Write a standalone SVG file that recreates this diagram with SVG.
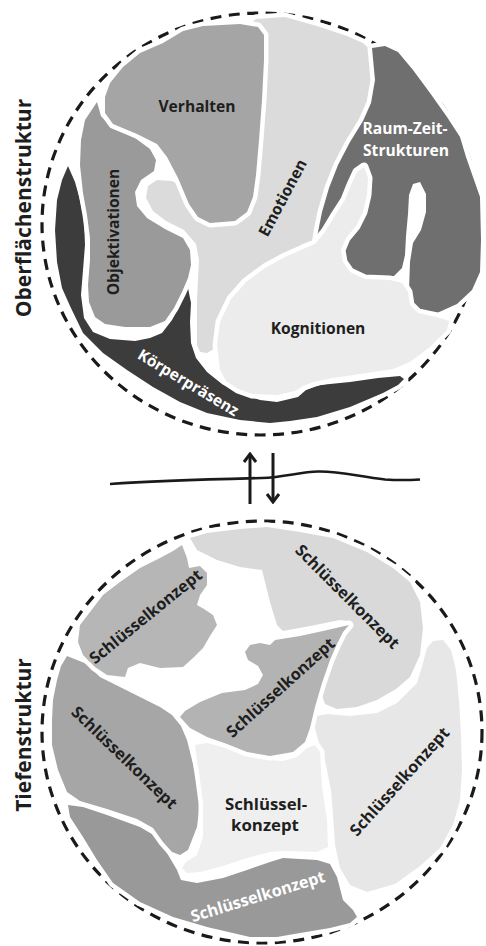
<svg xmlns="http://www.w3.org/2000/svg" width="486" height="946" viewBox="0 0 486 946">
<style>
.bg{fill:#ffffff}
.reg{stroke:#ffffff;stroke-width:9;stroke-linejoin:round;paint-order:stroke}
.ring{fill:none;stroke:#1a1a1a;stroke-width:3.2;stroke-dasharray:11 7.5}
.t{font-family:"Open Sans","Liberation Sans",Arial,sans-serif;font-weight:700;font-size:15.6px;fill:#1e1e1e;text-anchor:middle}
.b{font-size:16.2px}
.e{font-size:16.8px}
.w{fill:#ffffff}
.side{font-family:"Open Sans","Liberation Sans",Arial,sans-serif;font-weight:700;font-size:21px;fill:#1e1e1e;text-anchor:middle}
.arr{fill:none;stroke:#1a1a1a;stroke-width:3}
</style>
<defs>
<marker id="chev" viewBox="-2 -2 12 16" refX="8" refY="6" markerWidth="12" markerHeight="16" markerUnits="userSpaceOnUse" orient="auto">
<path d="M0,0 L8,6 L0,12" fill="none" stroke="#1a1a1a" stroke-width="3"/>
</marker>
</defs>
<rect class="bg" x="0" y="0" width="486" height="946"/>

<!-- side labels -->
<text class="side" transform="translate(23,208) rotate(-90)" y="7.5">Oberflächenstruktur</text>
<text class="side" transform="translate(23,735) rotate(-90)" y="7.5">Tiefenstruktur</text>

<!-- Top circle: Oberflächenstruktur -->
<g id="oberflaeche">
<ellipse class="ring" cx="261" cy="224" rx="219" ry="211"/>
<g id="koerperpraesenz">
<path class="reg" fill="#3c3c3c" d="M68,166 L62,180 L57,200 L55,230 L57,262 L62,288 L70,306 L83,333 L103,353 L127,370 L153,387 L180,402 L207,413 L240,420 L270,423 L290,421 L317,417 L350,407 L383,393 L398,385 L404,379 L400,376 L378,378 L350,382 L320,385 L306,390 L298,397 L277,402 L260,400 L240,393 L222,384 L207,372 L196,358 L191,343 L190,322 L191,303 L188,288 L184,296 L179,307 L172,320 L162,333 L150,338 L135,341 L110,339 L93,332 L84,318 L81,295 L83,270 L85,245 L84,220 L80,200 L75,182 Z"/>
<text class="t w" transform="translate(188,383) rotate(31)" y="5">Körperpräsenz</text>
</g>
<g id="emotionen">
<path class="reg" fill="#dadbda" d="M256,19 L285,17 L317,26 L347,36 L363,43 L376,55 L379,80 L373,105 L360,128 L346,150 L335,178 L327,205 L322,230 L318,246 L300,262 L262,292 L240,322 L228,345 L214,349 L207,353 L200,352 L197,345 L197,325 L197,300 L198,280 L199,260 L196,244 L184,230 L166,221 L153,211 L146,198 L148,186 L157,180 L172,181 L186,188 L200,205 L225,200 L240,120 L243,40 L250,24 Z"/>
<text class="t" transform="translate(283,198) rotate(-62)" y="5">Emotionen</text>
</g>
<g id="raum-zeit">
<path class="reg" fill="#6f6f6f" d="M372,48 L385,46 L398,52 L413,70 L430,93 L447,117 L460,137 L466,157 L473,177 L480,197 L481,240 L480,272 L472,290 L457,304 L437,313 L420,315 L412,308 L409,290 L410,262 L413,243 L421,230 L426,212 L426,194 L420,182 L413,184 L409,195 L408,214 L406,236 L405,255 L402,268 L394,276 L380,278 L340,275 L320,255 L316,244 L318,232 L322,212 L329,188 L338,165 L350,142 L363,121 L371,103 L375,80 Z"/>
<text class="t w" x="405" y="134">Raum-Zeit-</text>
<text class="t w" x="406" y="156">Strukturen</text>
</g>
<g id="objektivationen">
<path class="reg" fill="#9a9a9a" d="M97,102 L101,116 L112,127 L135,138 L150,149 L156,160 L154,171 L141,180 L135,192 L137,206 L147,218 L165,229 L183,238 L190,250 L191,265 L188,278 L182,292 L174,308 L165,321 L150,327 L125,327 L105,324 L95,317 L89,302 L88,285 L90,260 L90,238 L87,215 L83,193 L80,165 L81,140 L85,120 Z"/>
<text class="t" transform="translate(114,232) rotate(-90)" y="5">Objektivationen</text>
</g>
<g id="verhalten">
<path class="reg" fill="#a5a5a5" d="M105,113 L105,97 L110,83 L123,67 L140,53 L163,43 L183,31 L203,26 L240,24 L258,27 L264,35 L264,60 L262,100 L259,140 L256,175 L253,197 L247,212 L235,221 L210,223 L198,217 L189,204 L178,178 L167,157 L157,144 L137,134 L113,124 Z"/>
<text class="t" x="197" y="112">Verhalten</text>
</g>
<g id="kognitionen">
<path class="reg" fill="#ececec" d="M364,167 L368,178 L367,195 L363,212 L356,226 L346,238 L341,250 L343,262 L350,272 L365,279 L390,280 L402,283 L408,292 L410,305 L418,313 L437,317 L449,321 L447,330 L430,347 L410,362 L393,369 L367,373 L333,378 L313,382 L303,386 L295,391 L277,395 L252,394 L238,389 L226,381 L220,370 L217,345 L220,322 L231,299 L246,282 L265,268 L285,257 L303,249 L315,244 L325,232 L334,217 L345,200 L351,185 L357,172 Z"/>
<text class="t" x="318" y="334">Kognitionen</text>
</g>
</g>

<!-- separator line -->
<path d="M110,484 C150,481 220,479 262,478 C285,477 300,472 318,471.5 C340,471 360,477 385,479.5 C400,480.5 412,480 420,479.5" fill="none" stroke="#1a1a1a" stroke-width="2.6"/>

<!-- connectors -->
<g id="connectors">
<line class="arr" x1="250" y1="504" x2="250" y2="454" marker-end="url(#chev)"/>
<line class="arr" x1="273" y1="453" x2="273" y2="502" marker-end="url(#chev)"/>
</g>

<!-- Bottom circle: Tiefenstruktur -->
<g id="tiefe">
<ellipse class="ring" cx="262" cy="732" rx="220" ry="211"/>
<g id="sk-unten">
<path class="reg" fill="#999999" d="M68,805 L83,807 L107,815 L140,827 L157,837 L167,853 L177,870 L181,880 L197,883 L223,878 L247,870 L270,862 L283,858 L317,860 L330,864 L337,877 L343,900 L353,910 L357,917 L350,923 L330,928 L300,933 L277,937 L250,937 L207,927 L173,917 L140,902 L113,883 L97,860 L83,837 L70,817 Z"/>
<text class="t b w" transform="translate(258,897) rotate(-17)" y="5">Schlüsselkonzept</text>
</g>
<g id="sk-links">
<path class="reg" fill="#a6a6a6" d="M67,656 L87,664 L100,677 L120,687 L140,697 L160,707 L172,715 L181,726 L187,740 L192,760 L197,780 L200,803 L197,827 L188,850 L180,855 L172,852 L163,842 L153,828 L137,819 L107,809 L80,801 L67,792 L58,770 L52,745 L52,720 L53,700 L57,680 L61,666 Z"/>
<text class="t b" transform="translate(124,758) rotate(44)" y="5">Schlüsselkonzept</text>
</g>
<g id="sk-rechts">
<path class="reg" fill="#e6e7e6" d="M443,640 L451,650 L456,670 L459,700 L461,735 L462,770 L460,800 L453,825 L440,848 L420,866 L395,884 L367,892 L350,885 L340,868 L335,845 L333,815 L331,790 L326,765 L318,740 L313,720 L317,716 L327,714 L350,716 L377,713 L397,703 L417,683 L423,663 L427,648 L433,641 Z"/>
<text class="t b" transform="translate(400,782) rotate(-48)" y="5">Schlüsselkonzept</text>
</g>
<g id="sk-oben-rechts">
<path class="reg" fill="#d8d9d8" d="M190,538 L207,533 L240,529 L267,527 L300,532 L333,538 L367,552 L393,568 L410,582 L420,602 L423,628 L420,655 L410,677 L396,689 L377,700 L357,707 L337,709 L325,704 L320,690 L323,672 L332,652 L343,637 L351,627 L349,621 L340,620 L310,626 L283,631 L277,625 L270,602 L265,582 L262,570 L240,567 L217,560 L197,550 Z"/>
<text class="t b" transform="translate(347,597) rotate(45)" y="5">Schlüsselkonzept</text>
</g>
<g id="sk-oben-links">
<path class="reg" fill="#b6b6b6" d="M182,545 L187,558 L189,568 L200,566 L207,573 L207,585 L200,595 L197,605 L204,609 L213,615 L217,625 L210,636 L203,648 L193,658 L183,667 L160,668 L140,663 L128,668 L125,677 L107,675 L95,667 L83,655 L78,642 L80,625 L90,612 L103,595 L120,582 L140,568 L160,558 L173,551 Z"/>
<text class="t b" transform="translate(146,617) rotate(-39)" y="5">Schlüsselkonzept</text>
</g>
<g id="sk-mitte">
<path class="reg" fill="#efefef" d="M195,745 L207,743 L227,748 L247,755 L270,760 L283,761 L297,757 L307,748 L315,745 L320,752 L322,787 L327,820 L328,847 L317,852 L283,851 L270,852 L247,858 L223,866 L200,872 L187,873 L182,868 L186,862 L197,855 L203,837 L203,803 L200,780 L197,760 Z"/>
<text class="t e" x="266" y="810">Schlüssel-</text>
<text class="t e" x="265" y="831">konzept</text>
</g>
<g id="sk-zentrum">
<path class="reg" fill="#b3b3b3" d="M349,625 L343,632 L337,644 L330,660 L322,683 L315,707 L310,728 L305,742 L293,752 L270,756 L247,752 L227,744 L207,737 L190,728 L180,717 L185,711 L200,702 L222,693 L245,690 L258,684 L263,675 L258,666 L248,660 L245,652 L250,645 L260,643 L270,645 L275,640 L300,636 L323,631 Z"/>
<text class="t b" transform="translate(281,688) rotate(-42)" y="5">Schlüsselkonzept</text>
</g>
</g>
</svg>
